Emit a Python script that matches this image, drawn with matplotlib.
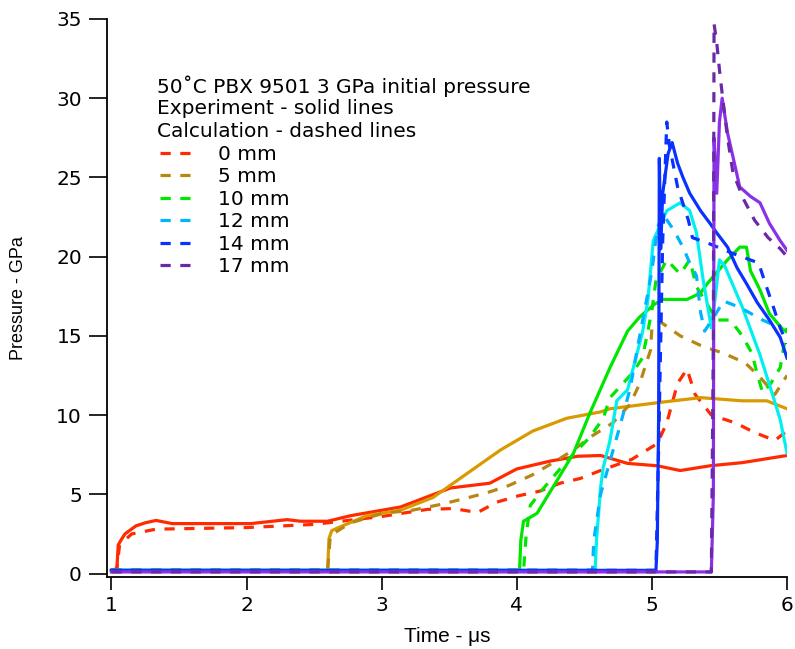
import matplotlib
matplotlib.use("Agg")
import matplotlib.pyplot as plt
from matplotlib.lines import Line2D

# ---- data (time in us, pressure in GPa) ----
# 0 mm
exp0_t = [1.00, 1.04, 1.05, 1.07, 1.10, 1.18, 1.25, 1.33, 1.45, 1.60, 2.03, 2.30, 2.40,
          2.60, 2.77, 3.14, 3.51, 3.80, 4.00, 4.25, 4.45, 4.62, 4.82, 5.04, 5.21, 5.43,
          5.67, 6.00]
exp0_p = [0.2, 0.3, 1.8, 2.1, 2.5, 3.0, 3.2, 3.35, 3.15, 3.15, 3.15, 3.4, 3.3,
          3.3, 3.65, 4.2, 5.4, 5.7, 6.6, 7.1, 7.4, 7.45, 6.95, 6.8, 6.5, 6.8,
          7.0, 7.45]
calc0_t = [1.00, 1.04, 1.06, 1.15, 1.33, 2.00, 2.50, 3.00, 3.34, 3.53, 3.71, 3.85, 4.01,
           4.17, 4.32, 4.47, 4.62, 4.85, 5.04, 5.11, 5.19, 5.26, 5.32, 5.44, 5.62, 5.76,
           5.91, 6.00]
calc0_p = [0.2, 0.3, 1.8, 2.5, 2.8, 2.9, 3.1, 3.6, 4.05, 4.1, 3.85, 4.5, 4.9,
           5.2, 5.7, 6.0, 6.5, 7.2, 8.2, 9.5, 12.0, 12.9, 11.3, 10.0, 9.5, 8.9,
           8.4, 9.0]

# 5 mm
exp5_t = [1.00, 2.60, 2.61, 2.63, 2.68, 2.89, 3.14, 3.38, 3.63, 3.88, 4.12, 4.37,
          4.62, 4.69, 5.06, 5.36, 5.67, 5.85, 6.00]
exp5_p = [0.2, 0.2, 2.2, 2.7, 2.9, 3.65, 4.0, 4.8, 6.3, 7.8, 9.0, 9.8,
          10.2, 10.4, 10.8, 11.1, 10.9, 10.9, 10.4]
calc5_t = [1.00, 2.60, 2.62, 2.77, 3.01, 3.23, 3.43, 3.60, 3.78, 3.94, 4.11, 4.27,
           4.42, 4.56, 4.71, 4.84, 4.91, 4.99, 5.00, 5.06, 5.21, 5.36, 5.53, 5.69,
           5.80, 5.91, 6.00]
calc5_p = [0.2, 0.2, 2.4, 3.2, 3.8, 4.0, 4.35, 4.7, 5.1, 5.55, 6.2, 7.0,
           7.8, 8.7, 9.5, 10.7, 12.0, 14.1, 15.5, 15.9, 15.0, 14.4, 13.9, 13.3,
           12.4, 11.3, 12.5]

# 10 mm
exp10_t = [1.00, 4.02, 4.03, 4.05, 4.15, 4.30, 4.42, 4.54, 4.69, 4.82, 4.91, 5.02,
           5.08, 5.26, 5.36, 5.41, 5.48, 5.56, 5.65, 5.70, 5.73, 5.80, 5.87, 5.97,
           6.00]
exp10_p = [0.2, 0.2, 2.1, 3.3, 3.8, 5.9, 7.6, 10.1, 13.0, 15.3, 16.2, 17.0,
           17.3, 17.3, 17.7, 18.3, 19.0, 19.8, 20.6, 20.6, 19.1, 17.9, 16.4, 15.4,
           15.3]
calc10_t = [1.00, 4.05, 4.07, 4.10, 4.20, 4.35, 4.54, 4.64, 4.69, 4.85, 4.93, 4.97,
            5.00, 5.03, 5.11, 5.21, 5.28, 5.33, 5.48, 5.58, 5.67, 5.74, 5.78, 5.82,
            5.88, 5.95, 6.00]
calc10_p = [0.2, 0.2, 2.5, 4.3, 5.4, 6.9, 8.6, 9.8, 11.1, 12.6, 13.6, 15.3,
            16.6, 18.5, 19.8, 18.9, 19.8, 18.1, 16.0, 16.0, 15.0, 13.9, 12.6, 11.4,
            12.0, 13.0, 15.5]

# 12 mm
exp12_t = [1.00, 4.58, 4.59, 4.62, 4.64, 4.69, 4.74, 4.82, 4.93, 4.97, 5.01, 5.11,
           5.21, 5.28, 5.33, 5.38, 5.44, 5.47, 5.50, 5.54, 5.67, 5.80, 5.90, 5.95,
           6.00]
exp12_p = [0.2, 0.2, 2.1, 5.4, 6.7, 8.4, 10.9, 11.6, 15.2, 17.2, 21.0, 22.9,
           23.4, 22.9, 21.5, 18.5, 15.5, 17.5, 19.8, 19.4, 16.8, 13.8, 11.1, 9.7,
           7.6]
calc12_t = [1.00, 4.56, 4.57, 4.62, 4.76, 4.84, 4.89, 4.97, 5.00, 5.04, 5.08, 5.16,
            5.23, 5.28, 5.33, 5.36, 5.39, 5.46, 5.53, 5.65, 5.82, 5.95]
calc12_p = [0.2, 0.2, 2.1, 5.0, 9.2, 11.7, 14.1, 17.7, 19.1, 21.8, 22.7, 21.7,
            20.6, 19.6, 18.8, 16.5, 15.3, 16.2, 17.2, 16.8, 16.0, 15.5]

# 14 mm
exp14_t = [1.00, 5.03, 5.04, 5.05, 5.055, 5.065, 5.08, 5.12, 5.15, 5.19, 5.23, 5.28,
           5.36, 5.43, 5.48, 5.56, 5.63, 5.70, 5.78, 5.87, 5.95, 6.00]
exp14_p = [0.2, 0.2, 2.0, 10.0, 26.2, 20.5, 24.0, 26.5, 27.2, 25.9, 25.0, 24.0,
           22.9, 22.1, 21.5, 20.6, 19.3, 18.3, 17.1, 16.0, 14.9, 13.6]
calc14_t = [1.00, 5.03, 5.05, 5.08, 5.10, 5.11, 5.13, 5.19, 5.27, 5.30, 5.43, 5.60,
            5.79, 5.84, 5.90, 5.95, 6.00]
calc14_p = [0.2, 0.2, 8.0, 21.0, 26.0, 28.5, 27.0, 24.4, 22.3, 21.2, 20.8, 20.2,
            19.6, 18.3, 16.8, 15.5, 14.5]

# 17 mm
exp17_t = [1.00, 5.44, 5.455, 5.46, 5.48, 5.50, 5.52, 5.56, 5.60, 5.65, 5.73, 5.80,
           5.87, 5.95, 6.00]
exp17_p = [0.1, 0.1, 5.0, 27.5, 24.0, 28.5, 30.0, 27.8, 26.3, 24.4, 23.8, 23.4,
           22.1, 21.0, 20.4]
calc17_t = [1.00, 5.44, 5.455, 5.46, 5.48, 5.50, 5.52, 5.56, 5.60, 5.68, 5.76, 5.86,
            5.95, 6.00]
calc17_p = [0.1, 0.1, 15.0, 34.7, 33.5, 31.8, 30.3, 27.5, 25.3, 23.6, 22.3, 21.2,
            20.5, 20.0]

labels = ["0 mm", "5 mm", "10 mm", "12 mm", "14 mm", "17 mm"]
exp_colors = ["#ff2a00", "#d99a00", "#00e600", "#00f0f0", "#0a32ff", "#8a30e6"]
calc_colors = ["#ff2a00", "#b88612", "#00e600", "#00b4ff", "#0a32ff", "#6a2aa8"]

exp_runs = [(exp0_t, exp0_p), (exp5_t, exp5_p), (exp10_t, exp10_p),
            (exp12_t, exp12_p), (exp14_t, exp14_p), (exp17_t, exp17_p)]
calc_runs = [(calc0_t, calc0_p), (calc5_t, calc5_p), (calc10_t, calc10_p),
             (calc12_t, calc12_p), (calc14_t, calc14_p), (calc17_t, calc17_p)]

fontsize = 14.5
lw = 2.3
dash = (3.2, 3.0)

fig = plt.figure(figsize=(7.95, 6.49), dpi=100)
ax = fig.add_axes([107 / 795, 72 / 649, 680 / 795, 558 / 649])

for i in range(len(labels)):
    t, p = exp_runs[i]
    ax.plot(t, p, '-', color=exp_colors[i], lw=lw)
    t, p = calc_runs[i]
    ax.plot(t, p, '--', color=calc_colors[i], lw=lw, dashes=dash)

ax.set_xlim(0.967, 6.0)
ax.set_ylim(-0.22, 35)
ax.set_xticks([1, 2, 3, 4, 5, 6])
ax.set_yticks([0, 5, 10, 15, 20, 25, 30, 35])
ax.spines['top'].set_visible(False)
ax.spines['right'].set_visible(False)
ax.spines['left'].set_linewidth(1.3)
ax.spines['bottom'].set_linewidth(1.3)
ax.tick_params(axis='y', direction='out', length=13, width=1.2, pad=5, labelsize=fontsize)
ax.tick_params(axis='x', direction='out', length=9, width=1.2, pad=5, labelsize=fontsize)

ax.set_ylabel('Pressure - GPa', fontsize=13,
              family=['Liberation Sans Narrow', 'Liberation Sans', 'DejaVu Sans'])
ax.yaxis.set_label_coords(-0.118, 0.5)
ax.set_xlabel('Time - μs', fontsize=15,
              family=['Liberation Sans', 'DejaVu Sans'])
ax.xaxis.set_label_coords(0.501, -0.09)

header = ["50˚C PBX 9501 3 GPa initial pressure",
          "Experiment - solid lines",
          "Calculation - dashed lines"]
for k, line in enumerate(header):
    ax.text((157 - 107) / 680, (577 - 86 - 22.8 * k) / 558, line,
            transform=ax.transAxes, fontsize=fontsize, va='center', ha='left')

handles = [Line2D([0], [0], color=calc_colors[i], lw=lw, ls='--', dashes=dash)
           for i in range(len(labels))]
leg = ax.legend(handles, labels, loc='upper left', frameon=False, fontsize=fontsize,
                bbox_to_anchor=((160 - 107) / 680, (577 - 145) / 558),
                handlelength=1.75, handletextpad=1.15, labelspacing=0.17,
                borderpad=0.0, borderaxespad=0.0)

fig.savefig('out.png', dpi=100)
